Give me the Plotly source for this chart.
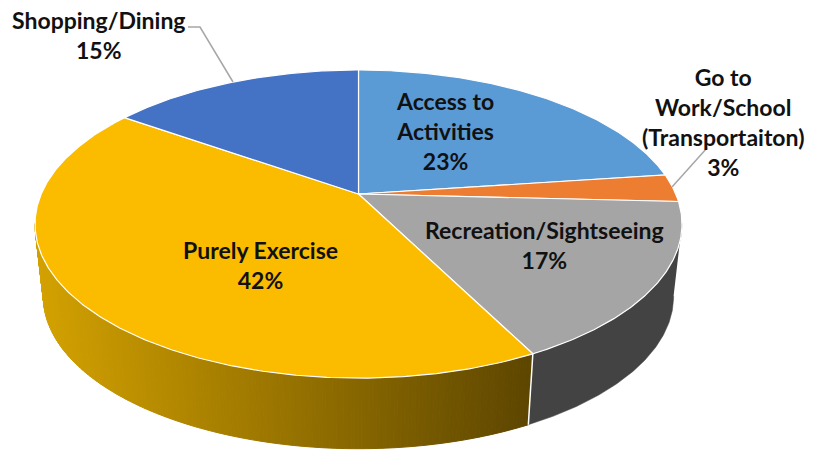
import math
import plotly.graph_objects as go

# ---- chart data -------------------------------------------------------------
categories = ["Access to Activities", "Go to Work/School (Transportaiton)",
              "Recreation/Sightseeing", "Purely Exercise", "Shopping/Dining"]
label_lines = [["Access to", "Activities"], ["Go to", "Work/School", "(Transportaiton)"],
               ["Recreation/Sightseeing"], ["Purely Exercise"], ["Shopping/Dining"]]
values = [22.9, 2.9, 16.7, 42.2, 15.3]
colors = ["#5B9BD5", "#ED7D31", "#A5A5A5", "#FBBC00", "#4472C4"]

# ---- perspective projection of the disc into pixel space --------------------
APEX_X, APEX_Y = 358.5, 194.0
A, B, K = 317.3, 148.2, 0.195
DEPTH, BOTTOM_SX, BOTTOM_SY = 73.0, 0.974, 0.987
WALL_FROM, WALL_TO = 101.0, 259.0


def top(theta):
    t = math.radians(theta)
    d = 1 + K * math.cos(t)
    return A * math.sin(t) / d, -B * math.cos(t) / d


def rim(theta):
    x, y = top(theta)
    return APEX_X + x, APEX_Y + y


def bottom(theta):
    x, y = top(theta)
    return APEX_X + x * BOTTOM_SX, APEX_Y + DEPTH + y * BOTTOM_SY


def arc(a, b, fn=rim, step=0.5):
    n = max(2, int(abs(b - a) / step))
    return [fn(a + (b - a) * i / n) for i in range(n + 1)]


def mix(c1, c2, f):
    return "rgb(" + ",".join(str(round(p + (q - p) * f)) for p, q in zip(c1, c2)) + ")"


total = sum(values)
bounds = [0.0]
for v in values:
    bounds.append(bounds[-1] + v / total * 360)

fig = go.Figure()

# ---- side wall --------------------------------------------------------------
YELLOW_L, YELLOW_R = (212, 162, 0), (92, 69, 0)
GREY_WALL = "#434343"
split = bounds[3]          # recreation / exercise boundary
x_left, x_right = rim(WALL_TO)[0], rim(split)[0]

grey_edge = arc(WALL_FROM, split) + arc(split, WALL_FROM, bottom)
fig.add_trace(go.Scatter(x=[p[0] for p in grey_edge], y=[p[1] for p in grey_edge],
                         mode="lines", fill="toself", fillcolor=GREY_WALL,
                         line=dict(color=GREY_WALL, width=0.5), hoverinfo="skip",
                         showlegend=False))
STRIPS = 200
for i in range(STRIPS):
    a = split + (WALL_TO - split) * i / STRIPS
    b = split + (WALL_TO - split) * (i + 1) / STRIPS
    pts = [rim(a), rim(b), bottom(b), bottom(a)]
    f = (sum(p[0] for p in pts) / 4 - x_right) / (x_left - x_right)
    c = mix(YELLOW_R, YELLOW_L, max(0, min(1, f)))
    fig.add_trace(go.Scatter(x=[p[0] for p in pts] + [pts[0][0]],
                             y=[p[1] for p in pts] + [pts[0][1]],
                             mode="lines", fill="toself", fillcolor=c,
                             line=dict(color=c, width=1), hoverinfo="skip",
                             showlegend=False))
# wall separator
sx0, sy0 = rim(split)
sx1, sy1 = bottom(split)
fig.add_trace(go.Scatter(x=[sx0, sx1], y=[sy0, sy1], mode="lines",
                         line=dict(color="white", width=1.5), hoverinfo="skip",
                         showlegend=False))

# ---- top face ---------------------------------------------------------------
for i, name in enumerate(categories):
    pts = [(APEX_X, APEX_Y)] + arc(bounds[i], bounds[i + 1]) + [(APEX_X, APEX_Y)]
    fig.add_trace(go.Scatter(x=[p[0] for p in pts], y=[p[1] for p in pts],
                             mode="lines", fill="toself", fillcolor=colors[i],
                             line=dict(color="white", width=1.2), name=name,
                             hoverinfo="skip", showlegend=False))

# ---- leader lines -----------------------------------------------------------
LEADERS = [([188, 200, 233], [27, 27, 82]), ([707, 672], [148, 187])]
for lx, ly in LEADERS:
    fig.add_trace(go.Scatter(x=lx, y=ly, mode="lines",
                             line=dict(color="#A6A6A6", width=1.5),
                             hoverinfo="skip", showlegend=False))

# ---- labels -----------------------------------------------------------------
LABEL_POS = [(445, 131), (723, 122), (544, 245), (260, 265), (99, 35)]
for lines, v, (x, y) in zip(label_lines, values, LABEL_POS):
    fig.add_annotation(x=x, y=y, xref="x", yref="y", showarrow=False,
                       text="<br>".join(lines + [f"{round(v)}%"]), align="center",
                       font=dict(family="Lato", size=23, color="#111111", weight="bold"))

fig.update_layout(width=814, height=450, margin=dict(l=0, r=0, t=0, b=0),
                  paper_bgcolor="white", plot_bgcolor="white", showlegend=False,
                  xaxis=dict(range=[0, 814], visible=False, fixedrange=True),
                  yaxis=dict(range=[450, 0], visible=False, fixedrange=True))
fig.write_html("out.html", config=dict(displayModeBar=False),
               post_script="document.body.style.margin='0';document.body.style.overflow='hidden';")
